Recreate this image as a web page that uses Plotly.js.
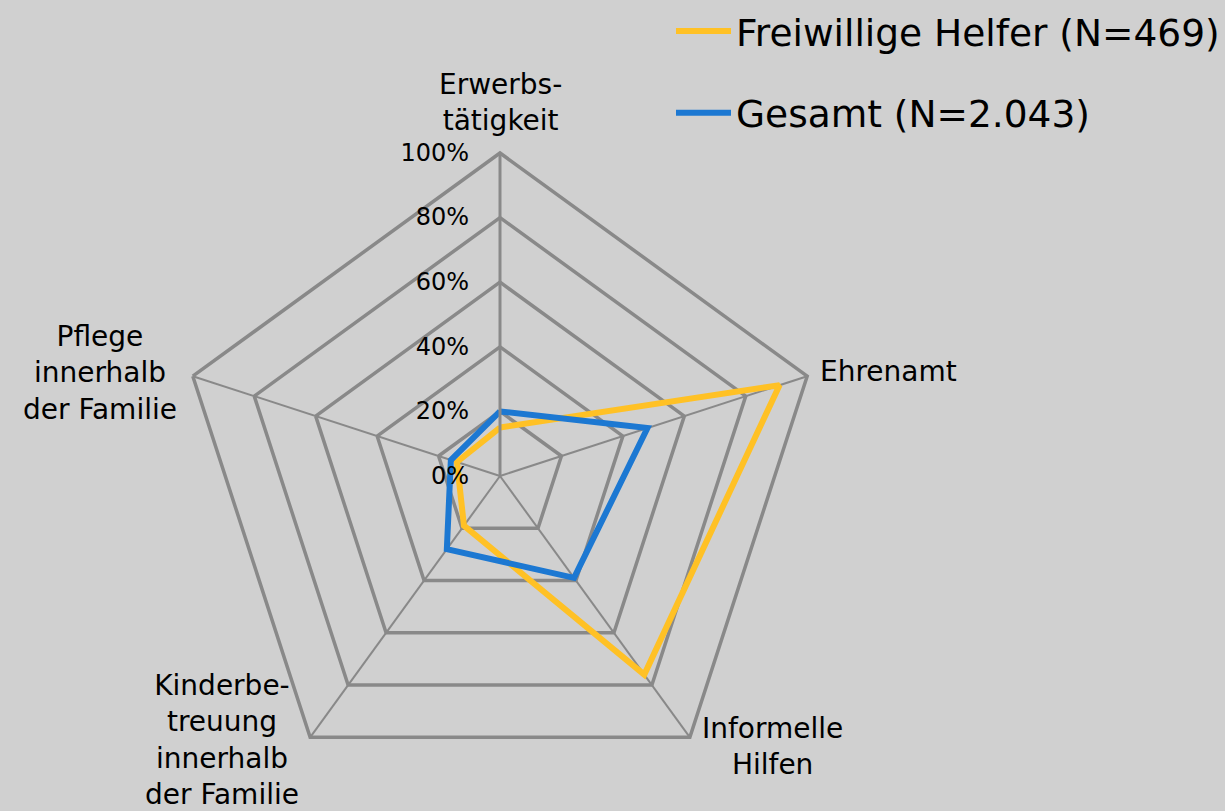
<!DOCTYPE html>
<html>
<head>
<meta charset="utf-8">
<script src="https://cdn.plot.ly/plotly-3.0.1.min.js"></script>
<style>html,body{margin:0;padding:0;background:#d0d0d0;}#chart{width:1225px;height:811px;}</style>
</head>
<body>
<div id="chart"></div>
<script>
const categories = ["Erwerbs-<br>tätigkeit", "Ehrenamt", "Informelle<br>Hilfen", "Kinderbe-<br>treuung<br>innerhalb<br>der Familie", "Pflege<br>innerhalb<br>der Familie"];
const freiwillige = [15, 91, 76, 19, 14];
const gesamt = [20, 48, 39, 28, 16];
const seriesNames = ["Freiwillige Helfer (N=469)", "Gesamt (N=2.043)"];
const radialTicks = [0, 20, 40, 60, 80, 100];

// label placement (pixels) for the category labels
const labelPos = [
  {x:500, y:102, xa:'center'},
  {x:818, y:371, xa:'left'},
  {x:772, y:746, xa:'center'},
  {x:222, y:740, xa:'center'},
  {x:100, y:373, xa:'center'}
];

function closed(a){ return a.concat([a[0]]); }

const traces = [
  {type:'scatterpolar', mode:'lines', r: closed(freiwillige), theta: closed(categories), name: seriesNames[0],
   line:{color:'#FFC125', width:6}, legendgroup:'a', hoverinfo:'skip'},
  {type:'scatterpolar', mode:'lines', r: closed(gesamt), theta: closed(categories), name: seriesNames[1],
   line:{color:'#1C78D2', width:6}, legendgroup:'b', hoverinfo:'skip'}
];

const W = 1225, H = 811;
const annotations = categories.map((c, i) => ({
  text: c, xref:'paper', yref:'paper', x: labelPos[i].x / W, y: 1 - labelPos[i].y / H,
  xanchor: labelPos[i].xa, yanchor:'middle', align:'center', showarrow:false,
  font:{size:28, color:'#000'}
}));

const layout = {
  width:W, height:H,
  paper_bgcolor:'#d0d0d0', plot_bgcolor:'#d0d0d0',
  margin:{l:0,r:0,t:0,b:0},
  font:{family:'DejaVu Sans, Verdana, sans-serif', color:'#000'},
  showlegend:true,
  legend:{x:1, xanchor:'right', y:1.0, yanchor:'top', font:{size:37.5}, bgcolor:'rgba(0,0,0,0)',
          traceorder:'grouped', tracegroupgap:30, itemwidth:55},
  annotations: annotations,
  polar:{
    domain:{x:[(500-323)/W,(500+323)/W], y:[(335-323)/H,(335+323)/H]},
    bgcolor:'#d0d0d0',
    gridshape:'linear',
    radialaxis:{range:[0,100], tickvals:radialTicks, ticktext:radialTicks.map(v=>v+'%'),
      angle:90, side:'counterclockwise', showline:true, linecolor:'#898989', linewidth:3,
      gridcolor:'#898989', gridwidth:3.5, ticks:'outside', ticklen:21, tickcolor:'rgba(0,0,0,0)',
      tickfont:{size:24}, tickangle:90},
    angularaxis:{direction:'clockwise', rotation:90, linecolor:'#898989', linewidth:3.5,
      gridcolor:'#898989', gridwidth:2, ticks:'', showticklabels:false}
  }
};

Plotly.newPlot('chart', traces, layout, {displayModeBar:false, staticPlot:true});
</script>
</body>
</html>
